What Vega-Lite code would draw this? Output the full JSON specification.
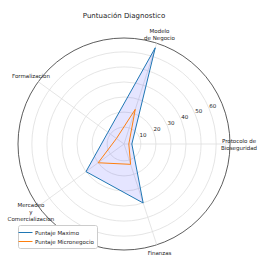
{
  "$schema": "https://vega.github.io/schema/vega-lite/v6.json",
  "width": 212,
  "height": 212,
  "autosize": {"type": "none"},
  "padding": {"left": 18, "top": 38, "right": 30, "bottom": 11},
  "title": {"text": "Puntuación Diagnostico", "fontSize": 7, "font": "DejaVu Sans", "fontWeight": "normal", "color": "#222222", "offset": 10},
  "config": {"view": {"stroke": null}, "font": "DejaVu Sans"},
  "datasets": {
    "cats": [
      {"k": 0, "label": "Protocolo de\nBioseguridad"},
      {"k": 1, "label": "Modelo\nde Negocio"},
      {"k": 2, "label": "Formalizacion"},
      {"k": 3, "label": "Mercadeo\ny\nComercializacion"},
      {"k": 4, "label": "Finanzas"}
    ],
    "rings": [
      {"r": 10, "t": "10", "kind": "grid"}, {"r": 20, "t": "20", "kind": "grid"}, {"r": 30, "t": "30", "kind": "grid"},
      {"r": 40, "t": "40", "kind": "grid"}, {"r": 50, "t": "50", "kind": "grid"}, {"r": 60, "t": "60", "kind": "grid"},
      {"r": 69.2, "t": "", "kind": "spine"}
    ],
    "scores": [
      {"serie": "Puntaje Maximo", "k": 0, "v": 4},
      {"serie": "Puntaje Maximo", "k": 1, "v": 66},
      {"serie": "Puntaje Maximo", "k": 2, "v": 12},
      {"serie": "Puntaje Maximo", "k": 3, "v": 30},
      {"serie": "Puntaje Maximo", "k": 4, "v": 40},
      {"serie": "Puntaje Micronegocio", "k": 0, "v": 2},
      {"serie": "Puntaje Micronegocio", "k": 1, "v": 23},
      {"serie": "Puntaje Micronegocio", "k": 2, "v": 5},
      {"serie": "Puntaje Micronegocio", "k": 3, "v": 20},
      {"serie": "Puntaje Micronegocio", "k": 4, "v": 13}
    ]
  },
  "layer": [
    {
      "data": {"name": "rings"},
      "transform": [{"calculate": "datum.r + 1.2", "as": "rr"}],
      "mark": {"type": "point", "shape": "circle", "filled": false, "strokeWidth": 0.8, "opacity": 1},
      "encoding": {
        "x": {"datum": 0, "type": "quantitative", "scale": {"domain": [-70.4, 70.4], "nice": false, "zero": false}, "axis": null},
        "y": {"datum": 0, "type": "quantitative", "scale": {"domain": [-70.4, 70.4], "nice": false, "zero": false}, "axis": null},
        "size": {"field": "rr", "type": "quantitative", "scale": {"type": "pow", "exponent": 2, "domain": [0, 70.4], "range": [0, 44944], "zero": true, "nice": false}, "legend": null},
        "stroke": {"field": "kind", "type": "nominal", "scale": {"domain": ["grid", "spine"], "range": ["#dedede", "#333333"]}, "legend": null}
      }
    },
    {
      "data": {"name": "cats"},
      "transform": [
        {"calculate": "datum.k * 2 * PI / 5", "as": "a"},
        {"calculate": "70.4 * cos(datum.a)", "as": "ex"},
        {"calculate": "70.4 * sin(datum.a)", "as": "ey"}
      ],
      "mark": {"type": "rule", "stroke": "#dedede", "strokeWidth": 0.8},
      "encoding": {
        "x": {"field": "ex", "type": "quantitative"},
        "y": {"field": "ey", "type": "quantitative"},
        "x2": {"datum": 0},
        "y2": {"datum": 0}
      }
    },
    {
      "data": {"name": "scores"},
      "transform": [
        {"filter": "datum.serie == 'Puntaje Maximo'"},
        {"calculate": "datum.k * 2 * PI / 5", "as": "a"},
        {"calculate": "(datum.v + 1.2) * cos(datum.a)", "as": "px"},
        {"calculate": "(datum.v + 1.2) * sin(datum.a)", "as": "py"}
      ],
      "mark": {"type": "line", "interpolate": "linear-closed", "fill": "#0000ff", "fillOpacity": 0.1, "strokeOpacity": 0},
      "encoding": {
        "x": {"field": "px", "type": "quantitative"},
        "y": {"field": "py", "type": "quantitative"},
        "order": {"field": "k", "type": "quantitative"}
      }
    },
    {
      "data": {"name": "scores"},
      "transform": [
        {"calculate": "datum.k * 2 * PI / 5", "as": "a"},
        {"calculate": "(datum.v + 1.2) * cos(datum.a)", "as": "px"},
        {"calculate": "(datum.v + 1.2) * sin(datum.a)", "as": "py"}
      ],
      "mark": {"type": "line", "interpolate": "linear-closed", "strokeWidth": 1},
      "encoding": {
        "x": {"field": "px", "type": "quantitative"},
        "y": {"field": "py", "type": "quantitative"},
        "order": {"field": "k", "type": "quantitative"},
        "color": {
          "field": "serie", "type": "nominal",
          "scale": {"domain": ["Puntaje Maximo", "Puntaje Micronegocio"], "range": ["#1f77b4", "#ff7f0e"]},
          "legend": {"orient": "none", "legendX": 0, "legendY": 187, "title": null, "symbolType": "M-1.75,0H1.75", "symbolSize": 64, "symbolStrokeWidth": 1, "labelFontSize": 5.5, "labelOffset": 5, "labelColor": "#222222", "fillColor": "#ffffff", "strokeColor": "#cccccc", "padding": 3, "cornerRadius": 2, "rowPadding": 1}
        }
      }
    },
    {
      "data": {"name": "rings"},
      "transform": [
        {"filter": "datum.kind == 'grid'"},
        {"calculate": "(datum.r + 1.2) * cos(PI / 8)", "as": "tx"},
        {"calculate": "(datum.r + 1.2) * sin(PI / 8)", "as": "ty"}
      ],
      "mark": {"type": "text", "align": "left", "baseline": "bottom", "fontSize": 5.5, "color": "#222222"},
      "encoding": {
        "x": {"field": "tx", "type": "quantitative"},
        "y": {"field": "ty", "type": "quantitative"},
        "text": {"field": "t"}
      }
    },
    {
      "data": {"name": "cats"},
      "transform": [
        {"calculate": "datum.k * 2 * PI / 5", "as": "a"},
        {"calculate": "length(split(datum.label, '\\n'))", "as": "n"},
        {"calculate": "76.4 * cos(datum.a)", "as": "lx"},
        {"calculate": "76.4 * sin(datum.a) + (datum.n - 1) * 3.5 / 1.506", "as": "ly"}
      ],
      "mark": {"type": "text", "align": "center", "baseline": "middle", "fontSize": 5.5, "lineBreak": "\n", "lineHeight": 7, "color": "#222222"},
      "encoding": {
        "x": {"field": "lx", "type": "quantitative"},
        "y": {"field": "ly", "type": "quantitative"},
        "text": {"field": "label"}
      }
    }
  ]
}
